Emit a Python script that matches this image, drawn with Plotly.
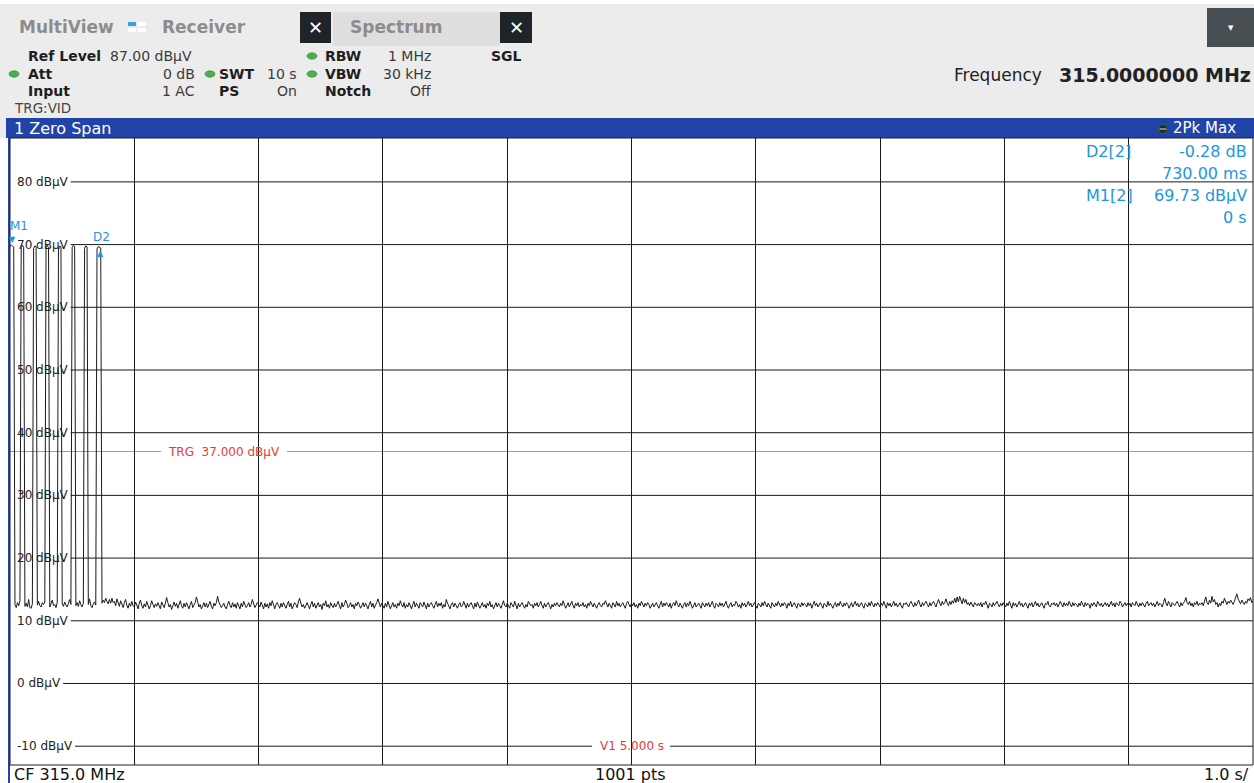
import numpy as np
import plotly.graph_objects as go

# ---------------- data ----------------
sweep_time_s = 10.0
ref_level_dbuv = 87.0
bottom_dbuv = -13.0

# trace, 10 ms per point: burst section 0.00 .. 0.79 s
burst_dbuv = [
    69.73, 69.9, 69.8, 69.6, 12.6, 12.1, 12.9, 12.4, 13.2,
    69.5, 69.9, 69.6, 12.3, 12.8, 12.2, 13.4, 12.1, 12.0, 12.7,
    69.4, 69.8, 69.7, 12.5, 13.1, 12.4, 12.2, 12.9, 12.6, 13.0,
    69.6, 69.9, 69.5, 12.2, 12.8, 13.3, 12.4, 12.6, 12.1, 12.9,
    69.3, 69.8, 69.6, 12.7, 12.3, 13.0, 12.5, 12.2, 12.8, 13.4, 12.6,
    69.5, 69.9, 69.7, 12.4, 12.9, 12.3, 13.2, 12.6, 12.2, 12.8,
    69.4, 69.8, 69.6, 12.6, 13.5, 12.4, 12.1, 12.7, 13.0, 12.5,
    69.3, 69.7, 69.6, 69.45, 12.8, 13.3, 12.9, 13.6, 13.1, 12.7,
]
# noise floor 0.80 .. 10.00 s
noise_dbuv = [
    13.4, 12.8, 13.6, 12.9, 13.1, 12.4, 13.5, 12.7, 12.3, 13.2, 12.6, 12.1, 12.9, 13.4, 12.5, 12.0, 12.8, 12.3, 13.1, 12.4,
    12.2, 13.0, 12.5, 11.9, 12.8, 13.3, 12.4, 12.0, 12.7, 12.2, 13.1, 12.5, 11.9, 12.4, 13.2, 12.6, 12.1, 12.7, 12.3, 12.9,
    12.4, 11.9, 13.0, 12.5, 12.1, 12.8, 13.7, 12.9, 12.2, 12.6, 11.8, 12.4, 13.0, 12.3, 12.8, 12.0, 12.6, 13.2, 12.4, 12.0,
    12.8, 12.2, 12.9, 12.4, 11.9, 12.6, 13.1, 12.1, 12.5, 12.9, 13.8, 12.7, 12.2, 12.6, 11.9, 12.4, 12.9, 12.2, 12.8, 12.1,
    12.6, 13.1, 12.3, 11.9, 12.8, 12.4, 12.9, 13.9, 13.0, 12.5, 12.1, 12.4, 12.8, 12.2, 11.9, 12.6, 13.1, 12.4, 12.1, 12.9,
    12.2, 12.7, 12.0, 12.9, 12.4, 11.9, 12.8, 12.2, 13.1, 12.6, 12.1, 12.4, 12.9, 12.2, 12.6, 13.4, 12.8, 12.1, 12.5, 12.9,
    12.6, 12.2, 13.0, 12.4, 11.9, 12.8, 12.2, 12.7, 12.0, 12.9, 12.4, 13.2, 12.3, 11.9, 12.6, 12.9, 12.4, 12.0, 12.8, 12.2,
    12.9, 12.4, 12.0, 12.6, 13.1, 12.2, 12.8, 11.9, 12.4, 12.9, 12.6, 12.1, 13.0, 13.6, 12.8, 12.2, 12.6, 12.0, 12.4, 12.9,
    12.4, 11.9, 12.6, 13.1, 12.2, 12.8, 12.0, 12.4, 12.9, 12.2, 12.6, 11.8, 12.8, 12.4, 13.2, 12.2, 12.6, 12.0, 12.9, 12.4,
    12.1, 12.8, 12.2, 12.6, 13.1, 12.4, 11.9, 12.9, 12.2, 12.6, 13.3, 12.8, 12.1, 12.4, 12.9, 12.2, 12.6, 11.9, 12.8, 12.4,
    13.0, 12.6, 12.0, 12.4, 12.9, 12.2, 12.8, 12.4, 11.9, 12.6, 13.1, 12.2, 12.8, 12.0, 12.4, 12.9, 13.5, 12.6, 12.2, 12.8,
    12.4, 12.0, 12.8, 12.2, 13.1, 12.6, 11.9, 12.4, 12.9, 12.2, 12.6, 12.0, 12.8, 12.4, 13.2, 12.6, 12.2, 12.9, 12.0, 12.6,
    12.2, 12.9, 12.4, 11.9, 12.6, 13.1, 12.2, 12.8, 12.4, 12.0, 12.9, 12.6, 12.2, 13.0, 12.4, 11.9, 12.8, 12.2, 12.6, 12.9,
    12.4, 12.0, 12.6, 13.1, 12.2, 12.8, 12.4, 12.9, 12.0, 12.6, 12.2, 13.4, 12.8, 12.4, 11.9, 12.6, 12.9, 12.2, 12.8, 12.4,
    12.0, 12.6, 12.9, 12.2, 12.4, 13.1, 12.6, 12.0, 12.8, 12.2, 12.6, 12.9, 12.4, 11.9, 12.8, 12.2, 13.0, 12.6, 12.0, 12.4,
    12.9, 12.2, 12.6, 12.0, 12.8, 12.4, 13.1, 12.2, 12.6, 11.9, 12.4, 12.9, 12.2, 12.8, 12.4, 12.0, 12.6, 13.2, 12.4, 12.2,
    12.8, 12.4, 12.0, 12.9, 12.6, 12.2, 13.1, 12.4, 11.9, 12.8, 12.2, 12.6, 12.9, 12.4, 12.0, 12.6, 12.2, 13.1, 12.8, 12.4,
    12.6, 12.0, 12.8, 12.4, 12.9, 12.2, 12.6, 13.1, 12.4, 12.0, 12.8, 12.2, 12.6, 12.9, 12.4, 11.9, 12.6, 12.2, 12.8, 12.4,
    12.9, 12.6, 12.2, 12.8, 12.4, 13.2, 12.6, 12.0, 12.4, 12.9, 12.2, 12.6, 13.1, 12.4, 12.0, 12.8, 12.4, 12.9, 12.2, 12.6,
    12.4, 12.9, 12.2, 12.6, 12.0, 12.8, 12.4, 13.1, 12.6, 12.2, 12.8, 12.4, 12.0, 12.6, 12.9, 12.4, 12.2, 12.8, 12.6, 13.2,
    12.6, 12.2, 12.8, 12.4, 12.0, 12.9, 12.6, 12.2, 13.1, 12.4, 12.8, 12.2, 12.6, 12.9, 12.4, 12.0, 12.8, 13.1, 12.6, 12.2,
    12.8, 12.4, 12.9, 12.2, 12.6, 12.0, 12.8, 12.4, 13.1, 12.6, 12.2, 12.8, 12.4, 12.9, 12.6, 12.0, 12.4, 12.8, 12.2, 12.6,
    12.9, 12.4, 12.0, 12.6, 13.1, 12.2, 12.8, 12.4, 12.9, 12.6, 12.2, 12.8, 12.0, 12.6, 12.9, 12.4, 13.2, 12.6, 12.2, 12.8,
    12.4, 12.0, 12.6, 12.9, 12.2, 12.8, 12.4, 13.1, 12.6, 12.0, 12.4, 12.9, 12.2, 12.6, 12.8, 12.4, 12.0, 12.9, 12.6, 12.2,
    12.8, 12.4, 12.9, 12.2, 12.6, 13.1, 12.4, 12.0, 12.8, 12.6, 12.2, 12.9, 12.4, 12.8, 12.2, 12.6, 13.1, 12.4, 12.0, 12.6,
    12.9, 12.2, 12.6, 12.4, 13.1, 12.8, 12.2, 12.6, 12.0, 12.9, 12.4, 12.8, 12.2, 12.6, 13.1, 12.4, 12.8, 12.2, 12.6, 12.9,
    12.4, 12.0, 12.8, 12.6, 12.2, 12.9, 12.4, 13.1, 12.6, 12.2, 12.8, 12.4, 12.0, 12.9, 12.6, 12.2, 12.8, 12.4, 13.1, 12.6,
    12.2, 12.8, 12.4, 12.9, 12.6, 12.0, 12.8, 12.4, 13.1, 12.2, 12.6, 12.9, 12.4, 12.0, 12.8, 12.6, 12.2, 12.9, 12.4, 12.8,
    12.6, 12.2, 12.9, 12.4, 12.8, 12.0, 12.6, 13.1, 12.4, 12.8, 12.2, 12.6, 12.9, 12.4, 12.0, 12.8, 12.6, 12.2, 13.1, 12.4,
    12.8, 12.4, 12.0, 12.6, 12.9, 12.2, 12.8, 12.4, 13.1, 12.6, 12.2, 12.8, 12.4, 12.9, 12.6, 12.0, 12.4, 12.9, 12.2, 12.6,
    13.1, 12.4, 12.8, 12.2, 12.6, 12.9, 12.4, 12.0, 12.8, 12.6, 12.2, 12.9, 12.4, 13.1, 12.6, 12.2, 12.8, 12.4, 12.9, 12.6,
    12.2, 12.8, 12.4, 13.1, 12.6, 12.0, 12.9, 12.4, 12.8, 12.2, 12.6, 13.1, 12.4, 12.8, 12.2, 12.6, 12.9, 12.4, 12.0, 12.8,
    12.6, 12.9, 12.4, 12.2, 12.8, 13.1, 12.6, 12.2, 12.9, 12.4, 12.8, 13.3, 12.6, 12.2, 12.9, 12.4, 12.8, 13.1, 12.6, 12.2,
    12.9, 12.4, 12.8, 13.1, 12.6, 12.2, 12.9, 13.4, 12.8, 12.4, 13.1, 12.6, 12.9, 13.5, 12.8, 12.4, 13.1, 12.6, 13.2, 12.8,
    13.6, 12.9, 13.8, 13.0, 13.9, 13.2, 12.7, 13.6, 12.9, 13.4, 12.6, 12.9, 12.4, 13.0, 12.7, 12.2, 12.9, 12.6, 12.4, 12.8,
    12.4, 12.9, 12.2, 12.8, 12.6, 13.1, 12.4, 12.0, 12.8, 12.6, 12.2, 12.9, 12.4, 12.8, 13.1, 12.6, 12.2, 12.8, 12.4, 12.9,
    12.6, 12.2, 12.8, 12.4, 13.1, 12.6, 12.0, 12.9, 12.4, 12.8, 12.2, 12.6, 13.1, 12.4, 12.8, 12.2, 12.6, 12.9, 12.4, 12.0,
    12.8, 12.4, 12.9, 12.2, 12.6, 13.1, 12.4, 12.8, 12.2, 12.6, 12.9, 12.4, 12.0, 12.8, 12.6, 13.1, 12.4, 12.2, 12.8, 12.6,
    12.9, 12.4, 12.8, 12.2, 12.6, 13.1, 12.6, 12.2, 12.9, 12.4, 12.8, 12.4, 13.1, 12.6, 12.2, 12.9, 12.4, 12.8, 12.6, 12.2,
    12.8, 12.4, 13.1, 12.6, 12.2, 12.9, 12.4, 12.8, 12.6, 12.0, 12.8, 12.4, 12.9, 12.6, 12.2, 13.1, 12.6, 12.4, 12.8, 12.2,
    12.6, 12.9, 12.4, 12.8, 12.2, 12.6, 13.1, 12.4, 12.8, 12.2, 12.9, 12.6, 12.4, 13.1, 12.8, 12.2, 12.6, 12.9, 12.4, 12.8,
    12.4, 12.8, 12.2, 12.9, 12.6, 12.4, 13.1, 12.6, 12.2, 12.8, 12.4, 12.9, 12.6, 12.2, 12.8, 13.1, 12.4, 12.6, 12.9, 12.4,
    12.8, 12.2, 12.6, 13.1, 12.4, 12.8, 12.6, 12.2, 12.9, 13.6, 12.8, 12.4, 13.1, 12.6, 12.2, 12.9, 12.6, 12.4, 12.8, 13.1,
    12.6, 12.2, 12.9, 12.4, 12.8, 13.1, 13.7, 12.9, 12.6, 13.1, 12.4, 12.8, 12.2, 12.9, 12.6, 13.1, 12.4, 12.8, 12.6, 12.9,
    12.4, 13.1, 13.8, 12.9, 12.6, 13.3, 12.8, 13.9, 13.0, 13.4, 12.6, 12.9, 12.2, 12.8, 12.4, 13.1, 12.8, 13.6, 12.9, 12.6,
    13.1, 12.8, 13.3, 12.9, 12.6, 13.1, 13.6, 14.3, 13.5, 13.0, 12.7, 13.3, 12.9, 12.6, 13.1, 12.8, 13.5, 13.2, 13.7, 12.9,
    13.2,
]
level_dbuv = burst_dbuv + noise_dbuv
time_s = np.linspace(0.0, sweep_time_s, len(level_dbuv))

grid_levels = [80, 70, 60, 50, 40, 30, 20, 10, 0, -10]
marker_names = ["M1", "D2"]
marker_time_s = [0.0, 0.73]
marker_level = [69.73, 69.45]
trigger_level = 37.0
vline_time_s = 5.0

# ---------------- layout helpers ----------------
W, H = 1254, 783
PL, PR, PT, PB = 10, 1253, 138, 765
FONT = "DejaVu Sans"
BLUE_BAR = "#2044a8"
MK_BLUE = "#1e96dc"
RED = "#e83a3a"


def px(x):
    return (x - PL) / (PR - PL)


def py(y):
    return (PB - y) / (PB - PT)


shapes = []
annotations = []


def rect(x0, y0, x1, y1, fill, line=None, layer="above"):
    shapes.append(dict(type="rect", xref="paper", yref="paper",
                       x0=px(x0), x1=px(x1), y0=py(y1), y1=py(y0),
                       fillcolor=fill, line=dict(width=0) if line is None else line,
                       layer=layer))


def dot(cx, cy, rx=5, ry=3.2, fill="#4db04f"):
    shapes.append(dict(type="circle", xref="paper", yref="paper",
                       x0=px(cx - rx), x1=px(cx + rx), y0=py(cy + ry), y1=py(cy - ry),
                       fillcolor=fill, line=dict(color="#2f7d32", width=0.6)))


def txt(x, y, s, size=14, color="#1e1e1e", anchor="left", bg=None):
    d = dict(x=px(x), y=py(y), xref="paper", yref="paper", text=s, showarrow=False,
             xanchor=anchor, yanchor="middle", borderpad=0,
             font=dict(family=FONT, size=size, color=color))
    if bg:
        d["bgcolor"] = bg
    annotations.append(d)


# ---------------- header ----------------
rect(0, 0, W, 4, "#ffffff")
rect(333, 12, 500, 46, "#dedede")
rect(300, 12, 331, 43, "#1e2428")
rect(500, 12, 532, 43, "#1e2428")
txt(315.5, 28, "<b>✕</b>", 18, "#ffffff", "center")
txt(516, 28, "<b>✕</b>", 18, "#ffffff", "center")
txt(18, 27, "<b>MultiView</b>", 17, "#8c8c8c")
rect(128, 22, 136, 26, "#35a0e6")
rect(138, 22, 146, 26, "#ffffff")
rect(128, 28, 136, 32, "#ffffff")
rect(138, 28, 146, 32, "#ffffff")
txt(161, 27, "<b>Receiver</b>", 17, "#8c8c8c")
txt(349, 27, "<b>Spectrum</b>", 17, "#8c8c8c")
rect(1207, 8, W, 47, "#474f53")
txt(1231, 28, "▼", 7, "#ffffff", "center")

txt(27, 56, "<b>Ref Level</b>", 14)
txt(109, 56, "87.00 dBµV", 14, "#3a3a3a")
dot(312, 56)
txt(324, 56, "<b>RBW</b>", 14)
txt(432, 56, "1 MHz", 14, "#3a3a3a", "right")
txt(490, 56, "<b>SGL</b>", 14)

dot(14, 74)
txt(27, 74, "<b>Att</b>", 14)
txt(196, 74, "0 dB", 14, "#3a3a3a", "right")
dot(210, 74)
txt(218, 74, "<b>SWT</b>", 14)
txt(298, 74, "10 s", 14, "#3a3a3a", "right")
dot(312, 74)
txt(324, 74, "<b>VBW</b>", 14)
txt(432, 74, "30 kHz", 14, "#3a3a3a", "right")

txt(27, 91, "<b>Input</b>", 14)
txt(196, 91, "1 AC", 14, "#3a3a3a", "right")
txt(218, 91, "<b>PS</b>", 14)
txt(298, 91, "On", 14, "#3a3a3a", "right")
txt(324, 91, "<b>Notch</b>", 14)
txt(432, 91, "Off", 14, "#3a3a3a", "right")
txt(13, 108, "TRG:VID", 13.5, "#444444")

txt(953, 75, "Frequency", 17, "#222222")
txt(1252, 75, "<b>315.0000000 MHz</b>", 19, "#222222", "right")

# title bar
rect(6, 118, W, 138, BLUE_BAR)
txt(13, 128, "1 Zero Span", 16, "#ffffff")
dot(1163, 129, 4.5, 4.5, "#2a2a2a")
shapes.append(dict(type="line", xref="paper", yref="paper", x0=px(1159.5), x1=px(1166.5),
                   y0=py(129), y1=py(129), line=dict(color="#dddddd", width=1)))
txt(1172, 128, "2Pk Max", 15, "#ffffff")

# left margin, blue border, bottom bar
rect(0, 138, 8, H, "#ffffff")
rect(PL, PB, W, H, "#ffffff")
rect(8, 138, PL, H, BLUE_BAR)
rect(PL, PT, PR, PB, "rgba(0,0,0,0)", line=dict(color="#202020", width=1))
txt(13, 774, "CF 315.0 MHz", 16, "#111111")
txt(630, 774, "1001 pts", 16, "#111111", "center")
txt(1250, 774, "1.0 s/", 16, "#111111", "right")

# ---------------- grid and labels ----------------
v1_label = f"V1 {vline_time_s:.3f} s"
v1_gap = (592, 670)
for lv in grid_levels:
    lab = f"{lv} dBµV"
    w = 7.6 * sum(c.isdigit() for c in lab) + 4.3 * lab.count("-") + 35.5
    start = PL + 6 + w + 4
    segs = [(start, PR)]
    if lv == -10:
        segs = [(start, v1_gap[0]), (v1_gap[1], PR)]
    for a, b in segs:
        shapes.append(dict(type="line", xref="paper", yref="y", x0=px(a), x1=px(b),
                           y0=lv, y1=lv, line=dict(color="#1a1a1a", width=1), layer="below"))
    annotations.append(dict(x=px(PL + 6), y=lv, xref="paper", yref="y", text=lab,
                            showarrow=False, xanchor="left", yanchor="middle", borderpad=0,
                            font=dict(family=FONT, size=12, color="#222222")))

# trigger line
trg_label = f"TRG\u00a0\u00a0{trigger_level:.3f} dBµV"
for a, b in [(PL, 161), (287, PR)]:
    shapes.append(dict(type="line", xref="paper", yref="y", x0=px(a), x1=px(b),
                       y0=trigger_level, y1=trigger_level,
                       line=dict(color="#ef7a7a", width=1), layer="below"))
annotations.append(dict(x=px(224), y=trigger_level, xref="paper", yref="y", text=trg_label,
                        showarrow=False, xanchor="center", yanchor="middle", borderpad=0,
                        font=dict(family=FONT, size=12, color=RED)))

# vertical line V1
shapes.append(dict(type="line", xref="x", yref="paper", x0=vline_time_s, x1=vline_time_s,
                   y0=0, y1=1, line=dict(color="#e03030", width=1), layer="below"))
annotations.append(dict(x=vline_time_s, y=-10, xref="x", yref="y", text=v1_label,
                        showarrow=False, xanchor="center", yanchor="middle", borderpad=0,
                        font=dict(family=FONT, size=12, color=RED)))

# markers
mk = [
    dict(txt_shift=20, tri="▼", tri_shift=7, txt_anchor="left", txt_x=-1, tri_x=2),
    dict(txt_shift=11, tri="▲", tri_shift=-5, txt_anchor="center", txt_x=1, tri_x=0),
]
for name, t, lv, m in zip(marker_names, marker_time_s, marker_level, mk):
    annotations.append(dict(x=t, y=lv, xref="x", yref="y", text=name, showarrow=False,
                            xanchor=m["txt_anchor"], yanchor="middle", yshift=m["txt_shift"],
                            xshift=m["txt_x"], borderpad=0,
                            font=dict(family=FONT, size=12, color=MK_BLUE)))
    annotations.append(dict(x=t, y=lv, xref="x", yref="y", text=m["tri"], showarrow=False,
                            xanchor="center", yanchor="middle", yshift=m["tri_shift"],
                            xshift=m["tri_x"], borderpad=0,
                            font=dict(family=FONT, size=8, color=MK_BLUE)))

# marker table
d_level = marker_level[1] - marker_level[0]
d_time_ms = (marker_time_s[1] - marker_time_s[0]) * 1000
txt(1085, 151, "D2[2]", 16, MK_BLUE)
txt(1248, 151, f"{d_level:.2f} dB", 16, MK_BLUE, "right")
txt(1248, 173, f"{d_time_ms:.2f} ms", 16, MK_BLUE, "right")
txt(1085, 195, "M1[2]", 16, MK_BLUE)
txt(1248, 195, f"{marker_level[0]:.2f} dBµV", 16, MK_BLUE, "right")
txt(1248, 217, f"{marker_time_s[0]:g} s", 16, MK_BLUE, "right")

# ---------------- figure ----------------
fig = go.Figure()
fig.add_trace(go.Scatter(x=time_s, y=level_dbuv, mode="lines",
                         line=dict(color="#1a1a1a", width=1), hoverinfo="skip",
                         showlegend=False))

fig.update_layout(
    width=W, height=H, autosize=False,
    margin=dict(l=PL, r=W - PR, t=PT, b=H - PB, pad=0),
    paper_bgcolor="#ececec", plot_bgcolor="#ffffff",
    showlegend=False,
    shapes=shapes, annotations=annotations,
    xaxis=dict(range=[0, sweep_time_s], dtick=1, tick0=0, showgrid=True,
               gridcolor="#1a1a1a", gridwidth=1, showticklabels=False, ticks="",
               zeroline=False, showline=False, fixedrange=True),
    yaxis=dict(range=[bottom_dbuv, ref_level_dbuv], showgrid=False, showticklabels=False,
               ticks="", zeroline=False, showline=False, fixedrange=True),
)

fig.write_html("out.html", config={"displayModeBar": False},
               post_script="document.body.style.margin='0';document.body.style.overflow='hidden';")
